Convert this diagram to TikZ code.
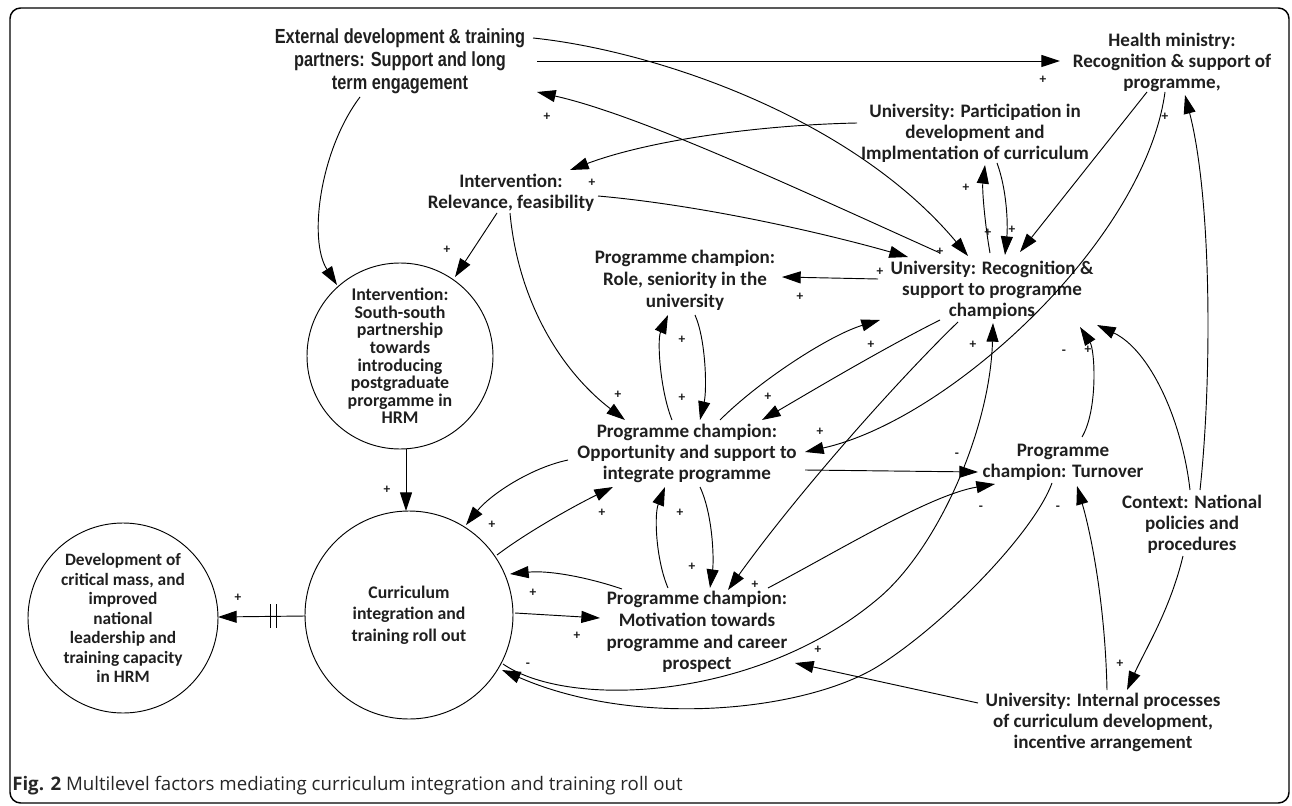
\documentclass[tikz,border=0pt]{standalone}
\usepackage{fontspec}
\setmainfont{Carlito}
\newfontfamily\narrowfont[FakeStretch=0.8]{Liberation Sans}
\newfontfamily\capfont{Open Sans}
\usetikzlibrary{arrows.meta}
\begin{document}
\begin{tikzpicture}[x=0.75pt,y=-0.75pt,
  lbl/.style={font=\bfseries\fontsize{14.3pt}{15.75pt}\selectfont, align=center, inner sep=0pt, text=black!88},
  sgn/.style={font=\bfseries\fontsize{10pt}{10pt}\selectfont, inner sep=0pt, text=black!90},
  arr/.style={-{Triangle[length=14pt,width=9pt]}, line width=0.7pt},
  ln/.style={line width=0.7pt},
  circ/.style={circle, draw, line width=0.7pt, inner sep=0pt, align=center, text=black!88}]
\useasboundingbox (0,0) rectangle (1292,806);
\draw[line width=1.1pt, rounded corners=8pt] (10,8) rectangle (1289,803);

% nodes
\node[lbl, font=\narrowfont\bfseries\fontsize{15.3pt}{17.25pt}\selectfont] (ext) at (400,61) {External development \& training\\partners: Support and long\\term engagement};
\node[lbl] (health) at (1172,62) {Health ministry:\\Recognition \& support of\\programme,};
\node[lbl] (upart) at (975,133) {University: Participation in\\development and\\Implmentation of curriculum};
\node[lbl] (interv) at (511,193) {Intervention:\\Relevance, feasibility};
\node[lbl, font=\bfseries\fontsize{14.3pt}{16.5pt}\selectfont] (role) at (685,280) {Programme champion:\\Role, seniority in the\\university};
\node[lbl] (urecog) at (992,290) {University: Recognition \&\\support to programme\\champions};
\node[circ, minimum size=139.5pt, font=\bfseries\fontsize{13.4pt}{13.2pt}\selectfont] (ss) at (400,356) {Intervention:\\South-south\\partnership\\towards\\introducing\\postgraduate\\prorgamme in\\HRM};
\node[lbl] (opp) at (687,453) {Programme champion:\\Opportunity and support to\\integrate programme};
\node[lbl] (turn) at (1063,462) {Programme\\champion: Turnover};
\node[lbl] (ctx) at (1192,524) {Context: National\\policies and\\procedures};
\node[circ, minimum size=156pt, font=\bfseries\fontsize{13.3pt}{16pt}\selectfont] (curr) at (409,615) {Curriculum\\integration and\\training roll out};
\node[circ, minimum size=142.5pt, font=\bfseries\fontsize{13pt}{14.6pt}\selectfont] (dev) at (123,618) {Development of\\critical mass, and\\improved\\national\\leadership and\\training capacity\\in HRM};
\node[lbl, font=\bfseries\fontsize{14.3pt}{16.3pt}\selectfont] (motiv) at (697,632) {Programme champion:\\Motivation towards\\programme and career\\prospect};
\node[lbl] (uint) at (1103,722) {University: Internal processes\\of curriculum development,\\incentive arrangement};
\node[anchor=base west, inner sep=0pt, font=\capfont\fontsize{14pt}{16pt}\selectfont, text=black!85] (cap) at (12,790) {\textbf{Fig. 2} Multilevel factors mediating curriculum integration and training roll out};

% connectors
\draw[arr] ([shift={(137,0)}]ext.center) -- ([shift={(-112,-1)}]health.center);
\draw[arr] ([shift={(133,-23)}]ext.center) .. controls (650,50) and (850,115) .. ([shift={(-24,-34)}]urecog.center);
\draw[arr] ([shift={(-52,-37)}]urecog.center) .. controls (800,190) and (640,115) .. ([shift={(137,31)}]ext.center);
\draw[arr] ([shift={(87,3)}]interv.center) .. controls (700,205) and (820,232) .. ([shift={(-84,-33)}]urecog.center);
\draw[arr] ([shift={(-118,-10)}]upart.center) .. controls (760,125) and (650,140) .. ([shift={(59,-23)}]interv.center);
\draw[arr] ([shift={(-114,-11)}]urecog.center) -- ([shift={(97,-3)}]role.center);
\draw[arr] ([shift={(-25,30)}]health.center) -- ([shift={(28,-38)}]urecog.center);
\draw[arr] ([shift={(-7,30)}]health.center) .. controls (1145,240) and (950,420) .. ([shift={(118,-1)}]opp.center);
\draw[arr] ([shift={(8,-34)}]ctx.center) .. controls (1212,380) and (1212,200) .. ([shift={(13,33)}]health.center);
\draw[arr] ([shift={(-2,-34)}]ctx.center) .. controls (1182,420) and (1150,350) .. ([shift={(105,35)}]urecog.center);
\draw[arr] ([shift={(19,-25)}]turn.center) .. controls (1098,410) and (1095,350) .. ([shift={(88,37)}]urecog.center);
\draw[arr] ([shift={(118,17)}]opp.center) -- ([shift={(-85,10)}]turn.center);
\draw[arr] ([shift={(71,-44)}]motiv.center) .. controls (840,550) and (930,495) .. ([shift={(-68,22)}]turn.center);
\draw[arr] ([shift={(-34,32)}]urecog.center) .. controls (900,378) and (800,490) .. ([shift={(31,-42)}]motiv.center);
\draw[arr] ([shift={(94,49)}]curr.center) .. controls (570,710) and (760,700) .. (880,597) .. controls (938,547) and (990,430) .. ([shift={(1,33)}]urecog.center);
\draw[arr] ([shift={(-11,21)}]turn.center) .. controls (1035,530) and (950,620) .. (880,665) .. controls (810,710) and (640,730) .. ([shift={(93,55)}]curr.center);
\draw[arr] ([shift={(-125,-19)}]uint.center) -- ([shift={(98,31)}]motiv.center);
\draw[arr] ([shift={(4,-32)}]uint.center) .. controls (1105,600) and (1090,530) .. ([shift={(14,24)}]turn.center);
\draw[arr] ([shift={(-9,32)}]ctx.center) .. controls (1170,610) and (1145,650) .. ([shift={(24,-32)}]uint.center);
\draw[arr] ([shift={(-119,7)}]opp.center) .. controls (530,468) and (490,495) .. ([shift={(57,-90)}]curr.center);
\draw[arr] ([shift={(88,-60)}]curr.center) .. controls (530,530) and (580,503) .. ([shift={(-74,34)}]opp.center);
\draw[arr] ([shift={(-75,-43)}]motiv.center) .. controls (590,578) and (550,570) .. ([shift={(101,-41)}]curr.center);
\draw[arr] ([shift={(106,-2)}]curr.center) -- ([shift={(-97,-14)}]motiv.center);
\draw[arr] ([shift={(-29,-44)}]motiv.center) .. controls (656,560) and (654,515) .. ([shift={(-22,34)}]opp.center);
\draw[arr] ([shift={(13,34)}]opp.center) .. controls (713,515) and (714,560) .. ([shift={(13,-44)}]motiv.center);
\draw[arr] ([shift={(-1,20)}]interv.center) .. controls (518,300) and (560,370) .. ([shift={(-62,-33)}]opp.center);
\draw[arr] ([shift={(-15,-33)}]opp.center) .. controls (660,390) and (657,340) .. ([shift={(-17,35)}]role.center);
\draw[arr] ([shift={(10,35)}]role.center) .. controls (706,340) and (707,390) .. ([shift={(13,-33)}]opp.center);
\draw[arr] ([shift={(33,-33)}]opp.center) .. controls (760,380) and (830,335) .. ([shift={(-112,30)}]urecog.center);
\draw[arr] ([shift={(-52,30)}]urecog.center) .. controls (880,350) and (800,398) .. ([shift={(75,-33)}]opp.center);
\draw[arr] ([shift={(-2,-37)}]urecog.center) .. controls (985,225) and (982,190) .. ([shift={(10,32)}]upart.center);
\draw[arr] ([shift={(22,30)}]upart.center) .. controls (1007,190) and (1008,225) .. ([shift={(13,-35)}]urecog.center);
\draw[arr] ([shift={(-40,36)}]ext.center) .. controls (320,150) and (308,240) .. ([shift={(-63,-71)}]ss.center);
\draw[arr] ([shift={(-14,20)}]interv.center) -- ([shift={(55,-79)}]ss.center);
\draw[arr] ([shift={(6,93)}]ss.center) -- ([shift={(-3,-104)}]curr.center);
\draw[arr] ([shift={(-104,1)}]curr.center) -- ([shift={(95,-1)}]dev.center);
\draw[ln] (270,604) -- (270,628);
\draw[ln] (276,604) -- (276,628);

% polarity signs
\node[sgn] (s1) at (1043,80) {+};
\node[sgn] (s2) at (547,117) {+};
\node[sgn] (s3) at (1165,117) {+};
\node[sgn] (s4) at (592,183) {+};
\node[sgn] (s5) at (966,188) {+};
\node[sgn] (s6) at (988,233) {+};
\node[sgn] (s7) at (1012,230) {+};
\node[sgn] (s8) at (940,252) {+};
\node[sgn] (s9) at (880,272) {+};
\node[sgn] (s10) at (800,297) {+};
\node[sgn] (s11) at (447,250) {+};
\node[sgn] (s12) at (618,395) {+};
\node[sgn] (s13) at (682,340) {+};
\node[sgn] (s14) at (682,398) {+};
\node[sgn] (s15) at (871,345) {+};
\node[sgn] (s16) at (973,345) {+};
\node[sgn] (s17) at (768,397) {+};
\node[sgn] (s18) at (820,432) {+};
\node[sgn] (s19) at (1064,352) {-};
\node[sgn] (s20) at (1088,350) {+};
\node[sgn] (s21) at (387,490) {+};
\node[sgn] (s22) at (957,455) {-};
\node[sgn] (s23) at (981,508) {-};
\node[sgn] (s24) at (1058,508) {-};
\node[sgn] (s25) at (492,525) {+};
\node[sgn] (s26) at (602,513) {+};
\node[sgn] (s27) at (680,513) {+};
\node[sgn] (s28) at (692,567) {+};
\node[sgn] (s29) at (755,585) {+};
\node[sgn] (s30) at (533,593) {+};
\node[sgn] (s31) at (577,636) {+};
\node[sgn] (s32) at (528,665) {-};
\node[sgn] (s33) at (818,650) {+};
\node[sgn] (s34) at (1120,664) {+};
\node[sgn] (s35) at (238,598) {+};
\end{tikzpicture}
\end{document}
